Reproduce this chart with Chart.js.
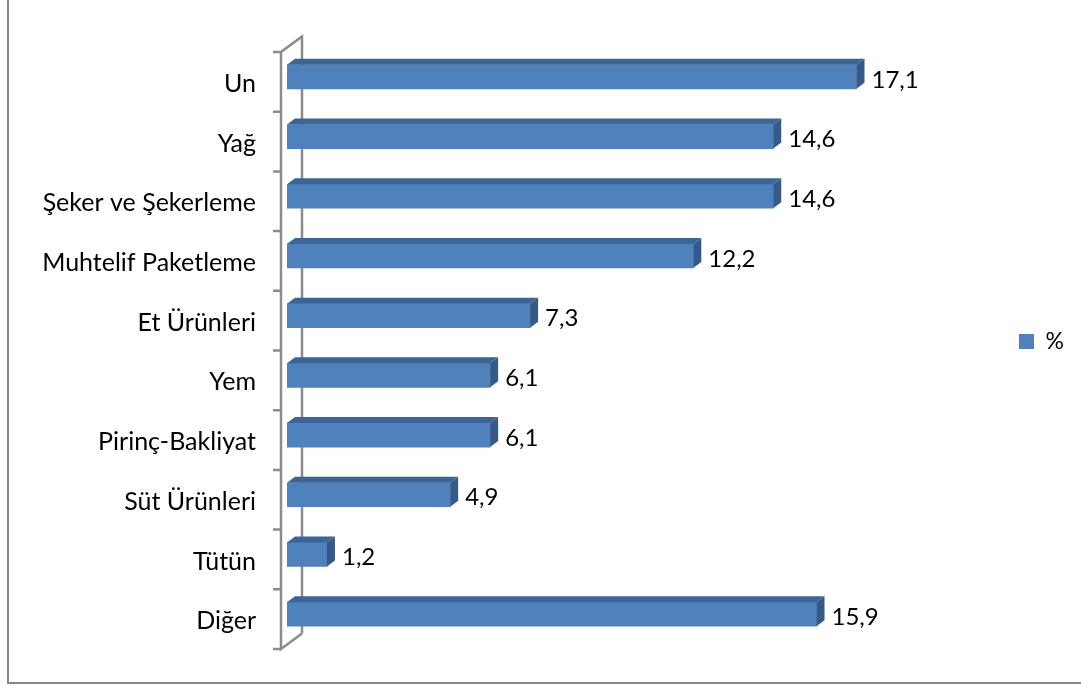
<!DOCTYPE html>
<html>
<head>
<meta charset="utf-8">
<style>
  html, body { margin: 0; padding: 0; background: #fff; }
  #box { position: relative; width: 1081px; height: 686px; overflow: hidden; }
  #frame { position: absolute; left: 7px; top: -3px; width: 1080px; height: 685px; border-left: 2px solid #898989; border-bottom: 2px solid #898989; }
  canvas { position: absolute; left: 0; top: 0; }
</style>
<script src="https://cdn.jsdelivr.net/npm/chart.js@4"></script>
</head>
<body>
<div id="box">
  <div id="frame"></div>
  <canvas id="chart" width="1081" height="686"></canvas>
</div>
<script>
const categories = ["Un", "Yağ", "Şeker ve Şekerleme", "Muhtelif Paketleme", "Et Ürünleri", "Yem", "Pirinç-Bakliyat", "Süt Ürünleri", "Tütün", "Diğer"];
const values = [17.1, 14.6, 14.6, 12.2, 7.3, 6.1, 6.1, 4.9, 1.2, 15.9];
const seriesName = "%";

const FONT = "Lato";
const depth = { x: 8, y: 6 };

/* ================= 3D WALL + BAR FACES ================= */
const bars3d = {
  id: "bars3d",
  afterLayout(chart) {
    chart.legend.left = 1009;
    chart.legend.right = 1081;
    chart.legend.top -= 4;
    chart.legend.bottom -= 4;
  },
  beforeDatasetsDraw(chart) {
    const { ctx, scales } = chart;
    const y = scales.y;
    const band = (y.bottom - y.top) / categories.length;
    const top = y.top + 5, bottom = y.bottom + 5;
    const fx = 281, bx = 302, dy = 15.5;

    ctx.save();
    ctx.strokeStyle = "#8c8c8c";
    ctx.lineWidth = 2.5;
    ctx.beginPath();
    ctx.moveTo(bx, bottom - dy); ctx.lineTo(bx, top - dy);
    ctx.lineTo(fx, top); ctx.lineTo(fx, bottom); ctx.lineTo(bx, bottom - dy);
    for (let i = 0; i <= categories.length; i++) {
      ctx.moveTo(fx, top + band * i);
      ctx.lineTo(273, top + band * i);
    }
    ctx.stroke();
    ctx.restore();
  },
  afterDatasetsDraw(chart) {
    const { ctx } = chart;
    const meta = chart.getDatasetMeta(0);
    ctx.save();
    meta.data.forEach((bar, i) => {
      const t = bar.y - bar.height / 2, b = bar.y + bar.height / 2;
      // top face
      ctx.fillStyle = "#3c6595";
      ctx.beginPath();
      ctx.moveTo(bar.base, t);
      ctx.lineTo(bar.base + depth.x, t - depth.y);
      ctx.lineTo(bar.x + depth.x, t - depth.y);
      ctx.lineTo(bar.x, t);
      ctx.closePath();
      ctx.fill();
      // right face
      ctx.fillStyle = "#365a87";
      ctx.beginPath();
      ctx.moveTo(bar.x, t);
      ctx.lineTo(bar.x + depth.x, t - depth.y);
      ctx.lineTo(bar.x + depth.x, b - depth.y);
      ctx.lineTo(bar.x, b);
      ctx.closePath();
      ctx.fill();
      // value label
      ctx.fillStyle = "#000";
      ctx.font = "24px " + FONT;
      ctx.textAlign = "left";
      ctx.textBaseline = "middle";
      ctx.fillText(values[i].toFixed(1).replace(".", ","), bar.x + 15, bar.y + 3);
    });
    ctx.restore();
  },
};

new Chart(document.getElementById("chart"), {
  type: "bar",
  data: {
    labels: categories,
    datasets: [
      {
        label: seriesName,
        data: values,
        backgroundColor: "#4f81bd",
        barThickness: 24,
      },
    ],
  },
  options: {
    indexAxis: "y",
    responsive: false,
    animation: false,
    layout: { padding: { left: 8, right: 63, top: 47, bottom: 42 } },
    scales: {
      x: { display: false, min: 0, max: 20 },
      y: {
        afterFit: (scale) => { scale.width = 279; },
        border: { display: false },
        grid: { display: false },
        ticks: {
          color: "#000",
          font: { family: FONT, size: 25 },
          padding: 23,
          labelOffset: 7,
          autoSkip: false,
        },
      },
    },
    plugins: {
      tooltip: { enabled: false },
      legend: {
        position: "right",
        align: "center",
        labels: {
          color: "#000",
          boxWidth: 15,
          boxHeight: 15,
          padding: 10,
          font: { family: FONT, size: 23 },
        },
      },
    },
  },
  plugins: [bars3d],
});
</script>
</body>
</html>
